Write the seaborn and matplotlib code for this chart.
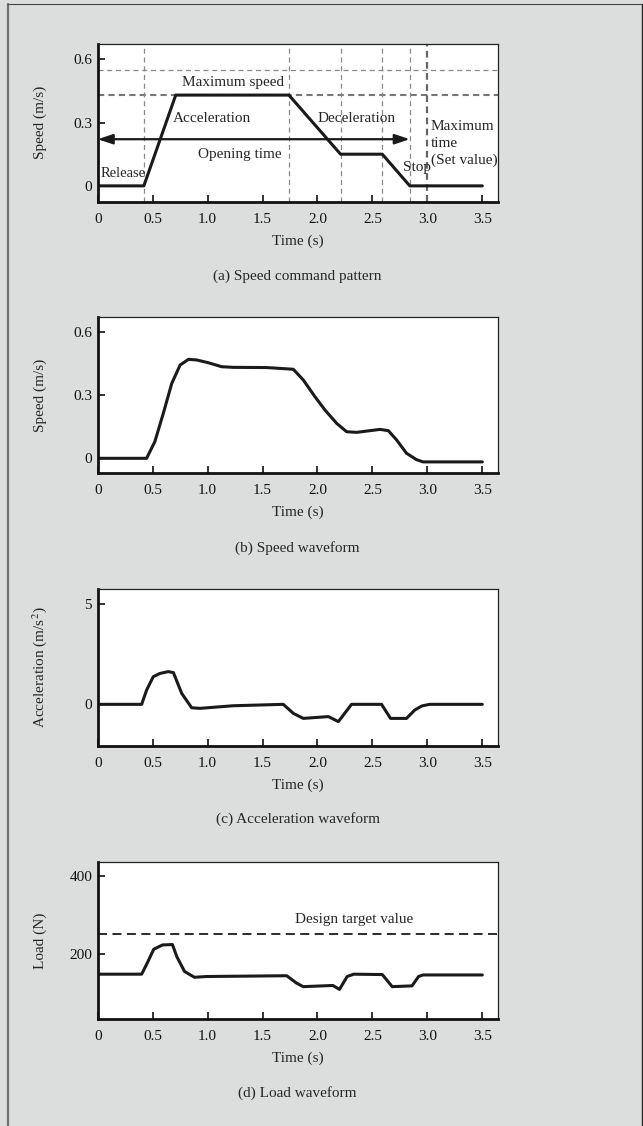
import pandas as pd
import matplotlib
matplotlib.use("Agg")
import matplotlib.pyplot as plt
import seaborn as sns

# (a) speed command pattern
cmd_time = [0, 0.42, 0.71, 1.74, 2.21, 2.59, 2.84, 3.5]
cmd_speed = [0, 0, 0.43, 0.43, 0.15, 0.15, 0, 0]
cmd_vlines = [0.42, 1.74, 2.21, 2.59, 2.84]
max_time = 3.0
max_speed = 0.43
speed_limit = 0.55
opening_time = 2.84

# (b) speed waveform
spd_time = [0, 0.445, 0.52, 0.597, 0.674, 0.75, 0.826, 0.90, 1.006, 1.128, 1.234,
            1.537, 1.78, 1.871, 1.977, 2.068, 2.174, 2.265, 2.356, 2.569, 2.645,
            2.72, 2.81, 2.90, 2.96, 3.5]
spd_val = [0, 0, 0.079, 0.213, 0.355, 0.442, 0.469, 0.466, 0.453, 0.434, 0.431,
           0.43, 0.422, 0.371, 0.292, 0.229, 0.166, 0.126, 0.123, 0.137, 0.131,
           0.087, 0.024, -0.006, -0.017, -0.017]

# (c) acceleration waveform
acc_time = [0, 0.40, 0.445, 0.506, 0.567, 0.643, 0.689, 0.764, 0.855, 0.93, 1.234,
            1.689, 1.78, 1.871, 2.099, 2.19, 2.31, 2.583, 2.665, 2.81, 2.886,
            2.95, 3.02, 3.5]
acc_val = [0, 0, 0.71, 1.38, 1.54, 1.63, 1.58, 0.55, -0.17, -0.2, -0.07,
           0, -0.45, -0.70, -0.61, -0.86, 0, 0, -0.70, -0.70, -0.28,
           -0.08, 0, 0]

# (d) load waveform
load_time = [0, 0.40, 0.45, 0.51, 0.59, 0.68, 0.72, 0.79, 0.88, 0.99, 1.72,
             1.81, 1.87, 2.14, 2.20, 2.27, 2.33, 2.59, 2.68, 2.86, 2.92,
             2.96, 3.5]
load_val = [148, 148, 176, 212, 223, 224, 193, 155, 140, 142, 144,
            125, 116, 119, 109, 142, 148, 147, 116, 118, 142,
            146, 146]
design_target = 250

sns.set_style("ticks")
plt.rcParams['font.family'] = ['Liberation Serif', 'DejaVu Serif']
plt.rcParams['mathtext.fontset'] = 'stix'

BG = '#dcdedd'
W, H = 643, 1126
fig = plt.figure(figsize=(W / 100, H / 100), dpi=100, facecolor=BG)

FS = 11
LEFT, RIGHT = 97.7, 497.7


def make_axes(top, bottom):
    ax = fig.add_axes([LEFT / W, 1 - bottom / H, (RIGHT - LEFT) / W, (bottom - top) / H])
    ax.set_facecolor('white')
    for side in ['left', 'bottom']:
        ax.spines[side].set_linewidth(2.0)
        ax.spines[side].set_color('#111111')
    for side in ['top', 'right']:
        ax.spines[side].set_linewidth(0.9)
        ax.spines[side].set_color('#222222')
    ax.tick_params(direction='in', length=5, width=1.2, colors='#111111', labelsize=FS)
    ax.tick_params(axis='x', pad=8)
    ax.tick_params(axis='y', pad=4)
    ax.set_xlim(0, 3.64)
    ax.set_xticks([0, 0.5, 1.0, 1.5, 2.0, 2.5, 3.0, 3.5])
    ax.set_xticklabels(['0', '0.5', '1.0', '1.5', '2.0', '2.5', '3.0', '3.5'])
    ax.set_xlabel('Time (s)', fontsize=FS, labelpad=6)
    return ax


def ylabel(ax, text):
    ax.set_ylabel(text, fontsize=FS)
    ax.yaxis.set_label_coords((40 - LEFT) / (RIGHT - LEFT), 0.5)
    ax.yaxis.label.set_va('center')


def caption(y, text):
    fig.text(297.7 / W, 1 - y / H, text, ha='center', va='center', fontsize=FS)


# ---- (a)
ax = make_axes(44, 201.7)
ax.set_ylim(-0.075, 0.672)
ax.set_yticks([0, 0.3, 0.6])
ax.set_yticklabels(['0', '0.3', '0.6'])
ylabel(ax, 'Speed (m/s)')
ax.axhline(speed_limit, color='#888888', lw=0.9, ls=(0, (4, 3)))
ax.axhline(max_speed, color='#777777', lw=1.5, ls=(0, (3, 2)))
for xv in cmd_vlines:
    ax.axvline(xv, color='#888888', lw=0.9, ls=(0, (4, 3)))
ax.axvline(max_time, color='#666666', lw=1.6, ls=(0, (3, 2)))
sns.lineplot(x=cmd_time, y=cmd_speed, ax=ax, color='#1a1a1a', lw=2.2)
ax.annotate('', xy=(0, 0.221), xytext=(opening_time, 0.221),
            arrowprops=dict(arrowstyle='<|-|>,head_length=0.9,head_width=0.3',
                            color='#1a1a1a', lw=1.6, shrinkA=0, shrinkB=0))
ax.text(1.23, 0.49, 'Maximum speed', ha='center', va='center', fontsize=FS)
ax.text(0.68, 0.32, 'Acceleration', ha='left', va='center', fontsize=FS)
ax.text(2.36, 0.32, 'Deceleration', ha='center', va='center', fontsize=FS)
ax.text(1.29, 0.147, 'Opening time', ha='center', va='center', fontsize=FS)
ax.text(0.03, 0.06, 'Release', ha='left', va='center', fontsize=FS - 0.5)
ax.text(2.91, 0.087, 'Stop', ha='center', va='center', fontsize=FS)
ax.text(3.03, 0.20, 'Maximum\ntime\n(Set value)', ha='left', va='center',
        fontsize=FS, linespacing=1.35)
caption(276, '(a) Speed command pattern')

# ---- (b)
ax = make_axes(316.7, 473.3)
ax.set_ylim(-0.071, 0.671)
ax.set_yticks([0, 0.3, 0.6])
ax.set_yticklabels(['0', '0.3', '0.6'])
ylabel(ax, 'Speed (m/s)')
sns.lineplot(x=spd_time, y=spd_val, ax=ax, color='#1a1a1a', lw=2.2)
caption(547.7, '(b) Speed waveform')

# ---- (c)
ax = make_axes(589.3, 745.7)
ax.set_ylim(-2.06, 5.73)
ax.set_yticks([0, 5])
ax.set_yticklabels(['0', '5'])
ylabel(ax, 'Acceleration (m/s$^{2}$)')
sns.lineplot(x=acc_time, y=acc_val, ax=ax, color='#1a1a1a', lw=2.2)
caption(819, '(c) Acceleration waveform')

# ---- (d)
ax = make_axes(862.3, 1019)
ax.set_ylim(33, 435)
ax.set_yticks([200, 400])
ax.set_yticklabels(['200', '400'])
ylabel(ax, 'Load (N)')
ax.axhline(design_target, color='#1a1a1a', lw=1.3, ls=(0, (5, 3)))
ax.text(2.33, 287, 'Design target value', ha='center', va='center', fontsize=FS)
sns.lineplot(x=load_time, y=load_val, ax=ax, color='#1a1a1a', lw=2.2)
caption(1092.7, '(d) Load waveform')

# outer frame
fig.add_artist(plt.Line2D([7.5 / W, 7.5 / W], [0, 1 - 4 / H], color='#6e6e6e', lw=1.6))
fig.add_artist(plt.Line2D([7.5 / W, 1], [1 - 4 / H, 1 - 4 / H], color='#444444', lw=0.8))
fig.add_artist(plt.Line2D([641.5 / W, 641.5 / W], [0, 1 - 4 / H], color='#222222', lw=1.0))

fig.savefig('out.png', dpi=100, facecolor=BG)
